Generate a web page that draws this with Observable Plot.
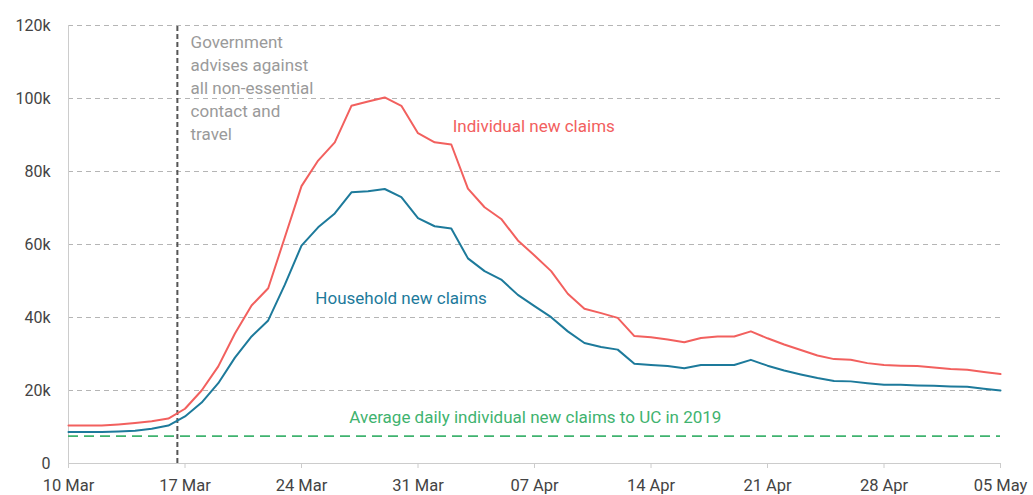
<!DOCTYPE html>
<html>
<head>
<meta charset="utf-8">
<script src="https://cdn.jsdelivr.net/npm/d3@7"></script>
<script src="https://cdn.jsdelivr.net/npm/@observablehq/plot@0.6"></script>
<style>
  html, body { margin: 0; padding: 0; background: #fff; }
  #chart svg { display: block; }
</style>
</head>
<body>
<div id="chart"></div>
<script>
// Daily series starting 10 Mar 2020
const startDate = "2020-03-10";
const individual = [10400, 10400, 10400, 10700, 11100, 11600, 12300, 15000, 20000, 26600,
  35600, 43300, 48000, 62000, 76000, 83000, 88000, 98000, 99200, 100300,
  98000, 90500, 88000, 87400, 75300, 70200, 67000, 61100, 57000, 52700,
  46500, 42400, 41200, 39900, 34900, 34600, 34000, 33200, 34400, 34800,
  34800, 36200, 34300, 32600, 31100, 29600, 28600, 28400, 27500, 27000,
  26800, 26700, 26300, 25900, 25700, 25100, 24500];
const household = [8600, 8600, 8600, 8800, 9000, 9500, 10400, 12900, 16700, 22000,
  29000, 34800, 39200, 49000, 59700, 64700, 68500, 74300, 74600, 75200,
  73000, 67200, 65000, 64400, 56200, 52700, 50400, 46200, 43100, 40100,
  36200, 33000, 31900, 31200, 27300, 27000, 26700, 26100, 27000, 27000,
  27000, 28400, 26800, 25500, 24400, 23400, 22600, 22500, 22000, 21600,
  21600, 21400, 21300, 21100, 21000, 20500, 20000];
const avg2019 = 7500;
const yTicks = [0, 20000, 40000, 60000, 80000, 100000, 120000];
const xTickLabels = ["2020-03-10", "2020-03-17", "2020-03-24", "2020-03-31", "2020-04-07",
  "2020-04-14", "2020-04-21", "2020-04-28", "2020-05-05"];
const policyDate = "2020-03-16T13:00:00Z";
const govText = ["Government", "advises against", "all non-essential", "contact and", "travel"];

const start = new Date(startDate + "T00:00:00Z");
const dayOf = (i) => d3.utcDay.offset(start, i);
const rows = [];
individual.forEach((v, i) => rows.push({date: dayOf(i), value: v, series: "Individual"}));
household.forEach((v, i) => rows.push({date: dayOf(i), value: v, series: "Household"}));
const xTicks = xTickLabels.map(s => new Date(s + "T00:00:00Z"));

const red = "#f2605e";
const blue = "#1d7a9b";
const green = "#3fb36f";
const grey = "#9a9a9a";

const labels = [
  {date: new Date("2020-04-02T02:00:00Z"), value: 92300, text: "Individual new claims", color: red},
  {date: new Date("2020-03-24T20:00:00Z"), value: 45300, text: "Household new claims", color: blue},
  {date: new Date("2020-03-26T21:00:00Z"), value: 12700, text: "Average daily individual new claims to UC in 2019", color: green}
];
const govRows = govText.map((t, i) => ({date: new Date("2020-03-17T08:00:00Z"), value: 115300 - i * 6300, text: t}));

const chart = Plot.plot({
  width: 1033,
  height: 495,
  marginLeft: 68,
  marginRight: 33,
  marginTop: 25,
  marginBottom: 32,
  style: {fontFamily: "Roboto, sans-serif", fontSize: "16px", color: "#444", background: "#fff"},
  x: {type: "utc", domain: [xTicks[0], xTicks[xTicks.length - 1]], label: null},
  y: {domain: [0, 120000], label: null},
  marks: [
    Plot.ruleY(yTicks.filter(d => d > 0), {stroke: "#b5b5b5", strokeDasharray: "5,4", strokeWidth: 1}),
    Plot.ruleY([0], {stroke: "#cccccc"}),
    Plot.ruleX([xTicks[0]], {stroke: "#cccccc"}),
    Plot.axisY({ticks: yTicks, tickSize: 0, tickPadding: 18, fontSize: 16, fill: "#444", label: null,
      tickFormat: d => d === 0 ? "0" : (d / 1000) + "k"}),
    Plot.axisX({ticks: xTicks, tickSize: 5, tickPadding: 11, fontSize: 16.5, fill: "#444", stroke: "#cccccc", label: null,
      tickFormat: d3.utcFormat("%d %b")}),
    Plot.ruleY([avg2019], {stroke: green, strokeDasharray: "10,6", strokeWidth: 1.8}),
    Plot.ruleX([new Date(policyDate)], {stroke: "#555", strokeDasharray: "5,3", strokeWidth: 2, y1: 0, y2: 120000}),
    Plot.line(rows.filter(d => d.series === "Individual"), {x: "date", y: "value", stroke: red, strokeWidth: 2}),
    Plot.line(rows.filter(d => d.series === "Household"), {x: "date", y: "value", stroke: blue, strokeWidth: 2}),
    Plot.text(labels, {x: "date", y: "value", text: "text", fill: d => d.color, textAnchor: "start", fontSize: 17}),
    Plot.text(govRows, {x: "date", y: "value", text: "text", fill: grey, textAnchor: "start", fontSize: 17})
  ]
});
document.getElementById("chart").appendChild(chart);
</script>
</body>
</html>
